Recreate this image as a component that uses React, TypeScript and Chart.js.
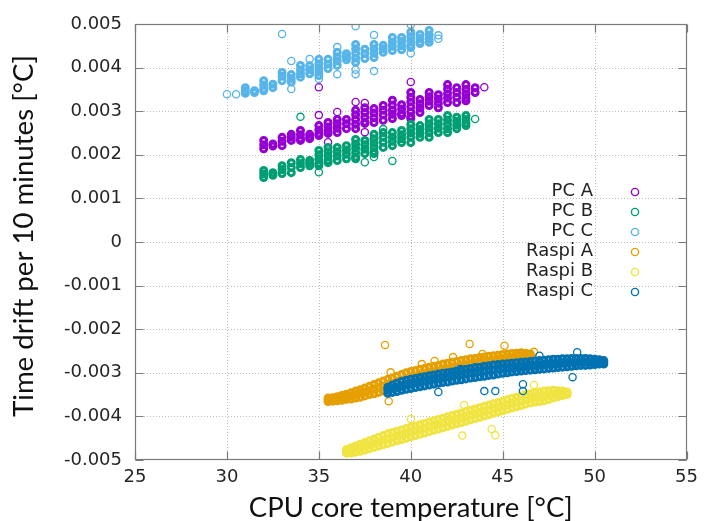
import React, { useEffect, useRef } from "react";
import { Chart, registerables } from "chart.js";

Chart.register(...registerables);

// ---------------- data ----------------
const SERIES_NAMES = ["PC A", "PC B", "PC C", "Raspi A", "Raspi B", "Raspi C"];
const SERIES_COLORS = ["#9400D3", "#009E73", "#56B4E9", "#E69F00", "#F0E442", "#0072B2"];

const X_TICKS = [25, 30, 35, 40, 45, 50, 55];
const X_TICK_LABELS = ["25", "30", "35", "40", "45", "50", "55"];
const Y_TICKS = [-0.005, -0.004, -0.003, -0.002, -0.001, 0, 0.001, 0.002, 0.003, 0.004, 0.005];
const Y_TICK_LABELS = ["-0.005", "-0.004", "-0.003", "-0.002", "-0.001", "0", "0.001", "0.002", "0.003", "0.004", "0.005"];

const X_TITLE = "CPU core temperature [°C]";
const Y_TITLE = "Time drift per 10 minutes [°C]";

// PC series: temperature columns and the drift values read in each column (dense core)
const PC_A_T = [32, 32.5, 33, 33.5, 34, 34.5, 35, 35.5, 36, 36.5, 37, 37.5, 38, 38.5, 39, 39.5, 40, 40.5, 41, 41.5, 42, 42.5, 43, 43.5];
const PC_A_V = [
  [0.00233, 0.00223, 0.00214],
  [0.00225, 0.0022],
  [0.0024, 0.00231, 0.00221],
  [0.00247, 0.0024, 0.00233],
  [0.00256, 0.00246, 0.00237, 0.00233],
  [0.00247, 0.0024, 0.00237],
  [0.00267, 0.00257, 0.00248, 0.00244],
  [0.00274, 0.00264, 0.00255, 0.00249],
  [0.00281, 0.00271, 0.00261, 0.00251],
  [0.00281, 0.00271, 0.0026],
  [0.00302, 0.00292, 0.00281, 0.0027, 0.0026],
  [0.00308, 0.00297, 0.00286, 0.00275, 0.00272],
  [0.00306, 0.00296, 0.00285, 0.00274],
  [0.00313, 0.00302, 0.00291, 0.00279],
  [0.00325, 0.00314, 0.00303, 0.00293, 0.00283],
  [0.00315, 0.00305, 0.00295, 0.0029],
  [0.00343, 0.00332, 0.00321, 0.0031, 0.00299, 0.00288, 0.00283],
  [0.00327, 0.00317, 0.00307, 0.00297],
  [0.00343, 0.00333, 0.00323, 0.00313],
  [0.00338, 0.00328, 0.00318, 0.00308],
  [0.00361, 0.00351, 0.0034, 0.0033, 0.0032],
  [0.00354, 0.00343, 0.00332, 0.0032],
  [0.00361, 0.0035, 0.0034, 0.0033, 0.00324],
  [0.00354, 0.00343],
];
const PC_A_OUT = [
  [35, 0.00355], [35, 0.00291], [35.5, 0.00229], [36, 0.00298], [37, 0.00321], [37.5, 0.00319],
  [37.5, 0.00252], [40, 0.00367], [44, 0.00355],
];

const PC_B_T = [32, 32.5, 33, 33.5, 34, 34.5, 35, 35.5, 36, 36.5, 37, 37.5, 38, 38.5, 39, 39.5, 40, 40.5, 41, 41.5, 42, 42.5, 43];
const PC_B_V = [
  [0.00164, 0.00156, 0.00148],
  [0.00159, 0.00153],
  [0.00175, 0.00166, 0.00157],
  [0.00182, 0.00171, 0.00159],
  [0.00189, 0.0018, 0.00171],
  [0.00187, 0.00181, 0.00175],
  [0.0021, 0.002, 0.0019, 0.0018, 0.00175],
  [0.00217, 0.00207, 0.00197, 0.00187, 0.00182],
  [0.00217, 0.00207, 0.00197, 0.00187],
  [0.00221, 0.00211, 0.00201, 0.00191],
  [0.00235, 0.00225, 0.00215, 0.00205, 0.00195, 0.00191],
  [0.00233, 0.00223, 0.00213, 0.00203],
  [0.00247, 0.00237, 0.00227, 0.00217, 0.00207, 0.00203],
  [0.00251, 0.0024, 0.00229, 0.00217],
  [0.00251, 0.00241, 0.00231, 0.00221],
  [0.00256, 0.00246, 0.00237, 0.00228],
  [0.0027, 0.0026, 0.0025, 0.0024, 0.00228],
  [0.00267, 0.00258, 0.00249, 0.0024],
  [0.00281, 0.00271, 0.00261, 0.00251, 0.0024],
  [0.00281, 0.00271, 0.00261, 0.00251],
  [0.0029, 0.0028, 0.0027, 0.0026, 0.00251],
  [0.00286, 0.00277, 0.00268, 0.0026],
  [0.0029, 0.00281, 0.00273, 0.00267],
];
const PC_B_OUT = [
  [34, 0.00287], [35, 0.0016], [37.5, 0.00183], [38, 0.00195], [38.5, 0.00259], [39, 0.00186], [43.5, 0.00282],
];

const PC_C_T = [31, 31.5, 32, 32.5, 33, 33.5, 34, 34.5, 35, 35.5, 36, 36.5, 37, 37.5, 38, 38.5, 39, 39.5, 40, 40.5, 41];
const PC_C_V = [
  [0.00354, 0.00347, 0.00341],
  [0.00347, 0.00343],
  [0.0037, 0.0036, 0.00351, 0.00347],
  [0.00362, 0.00354],
  [0.00389, 0.0038, 0.0037],
  [0.00384, 0.00375, 0.00367],
  [0.00405, 0.00395, 0.00386, 0.00378],
  [0.00404, 0.00395, 0.00386],
  [0.00419, 0.00409, 0.00399, 0.0039, 0.00382],
  [0.00419, 0.00408, 0.00398],
  [0.00435, 0.00425, 0.00415, 0.00405],
  [0.00432, 0.00425, 0.00418],
  [0.00453, 0.00443, 0.00433, 0.00422, 0.00412],
  [0.00442, 0.00432, 0.00421],
  [0.00453, 0.00443, 0.00433, 0.00423],
  [0.00451, 0.00443, 0.00435],
  [0.00469, 0.00459, 0.00449, 0.00439],
  [0.00469, 0.0046, 0.0045, 0.00441],
  [0.00481, 0.00471, 0.00461, 0.00451, 0.00446],
  [0.00476, 0.00467, 0.00458, 0.00455],
  [0.00485, 0.00475, 0.00465, 0.00458],
];
const PC_C_OUT = [
  [30, 0.00339], [30.5, 0.00339], [33, 0.00477], [33.5, 0.00415], [33.5, 0.00351], [34.5, 0.0042], [35, 0.00374],
  [36, 0.00447], [36, 0.00385], [37, 0.00495], [37, 0.00385], [37, 0.00395], [38, 0.00475], [38, 0.00392],
  [40, 0.00498], [40, 0.00433], [41.5, 0.00474], [41.5, 0.00466],
];

// Raspi series: [temperature, upper, middle, lower] read along each band
const RASPI_A_BAND = [
  [35.5, -0.00358, -0.00362, -0.00366], [35.75, -0.00357, -0.00361, -0.00365], [36, -0.00355, -0.0036, -0.00364],
  [36.25, -0.00352, -0.00358, -0.00363], [36.5, -0.00349, -0.00355, -0.00361], [36.75, -0.00346, -0.00353, -0.0036],
  [37, -0.00342, -0.0035, -0.00358], [37.25, -0.00339, -0.00347, -0.00356], [37.5, -0.00335, -0.00344, -0.00353],
  [37.75, -0.00331, -0.00341, -0.0035], [38, -0.00327, -0.00337, -0.00348], [38.25, -0.00323, -0.00334, -0.00345],
  [38.5, -0.00319, -0.0033, -0.00342], [38.75, -0.00315, -0.00327, -0.00339], [39, -0.00312, -0.00324, -0.00336],
  [39.25, -0.00308, -0.0032, -0.00333], [39.5, -0.00304, -0.00317, -0.0033], [39.75, -0.003, -0.00313, -0.00327],
  [40, -0.00297, -0.0031, -0.00325], [40.25, -0.00295, -0.00308, -0.00322], [40.5, -0.00292, -0.00305, -0.00319],
  [40.75, -0.0029, -0.00302, -0.00317], [41, -0.00287, -0.003, -0.00314], [41.25, -0.00285, -0.00298, -0.00312],
  [41.5, -0.00283, -0.00296, -0.00309], [41.75, -0.0028, -0.00293, -0.00306], [42, -0.00278, -0.00291, -0.00304],
  [42.25, -0.00276, -0.00289, -0.00302], [42.5, -0.00274, -0.00287, -0.00299], [42.75, -0.00272, -0.00284, -0.00297],
  [43, -0.0027, -0.00282, -0.00294], [43.25, -0.00268, -0.0028, -0.00292], [43.5, -0.00267, -0.00278, -0.0029],
  [43.75, -0.00265, -0.00276, -0.00287], [44, -0.00264, -0.00275, -0.00285], [44.25, -0.00262, -0.00273, -0.00283],
  [44.5, -0.00261, -0.00271, -0.00281], [44.75, -0.0026, -0.0027, -0.00279], [45, -0.00258, -0.00268, -0.00277],
  [45.25, -0.00257, -0.00266, -0.00275], [45.5, -0.00256, -0.00265, -0.00273], [45.75, -0.00255, -0.00263, -0.00271],
  [46, -0.00254, -0.00261, -0.00269], [46.25, -0.00255, -0.00261, -0.00267], [46.5, -0.00257, -0.00261, -0.00265],
];
const RASPI_A_OUT = [
  [38.6, -0.00236], [43.2, -0.00234], [45.1, -0.00238], [41.3, -0.00273], [38.9, -0.00299], [42.3, -0.00264],
  [43.9, -0.00257], [38.8, -0.00365], [46.7, -0.00252], [46.2, -0.00268], [40.6, -0.0028],
];

const RASPI_B_BAND = [
  [36.5, -0.00476, -0.0048, -0.00484], [36.75, -0.00472, -0.00478, -0.00484], [37, -0.00468, -0.00475, -0.00482],
  [37.25, -0.00464, -0.00472, -0.0048], [37.5, -0.0046, -0.00468, -0.00477], [37.75, -0.00456, -0.00465, -0.00474],
  [38, -0.00452, -0.00461, -0.00471], [38.25, -0.00448, -0.00458, -0.00468], [38.5, -0.00444, -0.00454, -0.00465],
  [38.75, -0.0044, -0.00451, -0.00462], [39, -0.00437, -0.00448, -0.00459], [39.25, -0.00434, -0.00445, -0.00456],
  [39.5, -0.00431, -0.00442, -0.00453], [39.75, -0.00428, -0.00439, -0.0045], [40, -0.00425, -0.00436, -0.00447],
  [40.25, -0.00422, -0.00433, -0.00444], [40.5, -0.00419, -0.0043, -0.00441], [40.75, -0.00416, -0.00427, -0.00438],
  [41, -0.00413, -0.00424, -0.00435], [41.25, -0.0041, -0.00421, -0.00432], [41.5, -0.00407, -0.00418, -0.00429],
  [41.75, -0.00404, -0.00415, -0.00426], [42, -0.00401, -0.00412, -0.00423], [42.25, -0.00398, -0.00409, -0.0042],
  [42.5, -0.00395, -0.00406, -0.00417], [42.75, -0.00392, -0.00403, -0.00414], [43, -0.00389, -0.004, -0.00411],
  [43.25, -0.00386, -0.00397, -0.00408], [43.5, -0.00383, -0.00394, -0.00405], [43.75, -0.0038, -0.00391, -0.00402],
  [44, -0.00377, -0.00388, -0.00399], [44.25, -0.00374, -0.00385, -0.00396], [44.5, -0.00371, -0.00382, -0.00393],
  [44.75, -0.00368, -0.00379, -0.0039], [45, -0.00365, -0.00376, -0.00387], [45.25, -0.00362, -0.00373, -0.00384],
  [45.5, -0.00359, -0.0037, -0.00381], [45.75, -0.00356, -0.00367, -0.00378], [46, -0.00353, -0.00364, -0.00375],
  [46.25, -0.0035, -0.00361, -0.00372], [46.5, -0.00348, -0.00358, -0.00369], [46.75, -0.00346, -0.00356, -0.00367],
  [47, -0.00344, -0.00355, -0.00366], [47.25, -0.00342, -0.00353, -0.00364], [47.5, -0.00341, -0.00351, -0.00361],
  [47.75, -0.0034, -0.00349, -0.00358], [48, -0.00341, -0.00348, -0.00355], [48.25, -0.00342, -0.00347, -0.00352],
  [48.5, -0.00344, -0.00347, -0.0035],
];
const RASPI_B_OUT = [
  [40, -0.00406], [42.9, -0.00374], [42.8, -0.00444], [44.4, -0.00429], [44.6, -0.00443], [46.7, -0.00328],
];

const RASPI_C_BAND = [
  [38.75, -0.00333, -0.0034, -0.00347], [39, -0.00328, -0.00336, -0.00345], [39.25, -0.00324, -0.00333, -0.00343],
  [39.5, -0.0032, -0.0033, -0.0034], [39.75, -0.00317, -0.00327, -0.00338], [40, -0.00315, -0.00325, -0.00336],
  [40.25, -0.00313, -0.00323, -0.00334], [40.5, -0.00311, -0.00321, -0.00332], [40.75, -0.00309, -0.00319, -0.0033],
  [41, -0.00307, -0.00317, -0.00328], [41.25, -0.00305, -0.00315, -0.00326], [41.5, -0.00303, -0.00313, -0.00324],
  [41.75, -0.00301, -0.00311, -0.00322], [42, -0.003, -0.00309, -0.00321], [42.25, -0.00298, -0.00307, -0.00319],
  [42.5, -0.00296, -0.00305, -0.00317], [42.75, -0.00294, -0.00304, -0.00316], [43, -0.00292, -0.00302, -0.00314],
  [43.25, -0.0029, -0.003, -0.00312], [43.5, -0.00288, -0.00299, -0.00311], [43.75, -0.00287, -0.00297, -0.00309],
  [44, -0.00285, -0.00296, -0.00308], [44.25, -0.00284, -0.00294, -0.00306], [44.5, -0.00282, -0.00293, -0.00305],
  [44.75, -0.00281, -0.00291, -0.00303], [45, -0.0028, -0.0029, -0.00301], [45.25, -0.00279, -0.00289, -0.003],
  [45.5, -0.00278, -0.00288, -0.00298], [45.75, -0.00277, -0.00287, -0.00297], [46, -0.00276, -0.00286, -0.00296],
  [46.25, -0.00275, -0.00285, -0.00295], [46.5, -0.00274, -0.00284, -0.00294], [46.75, -0.00273, -0.00283, -0.00293],
  [47, -0.00272, -0.00282, -0.00292], [47.25, -0.00271, -0.00281, -0.00291], [47.5, -0.0027, -0.0028, -0.0029],
  [47.75, -0.00269, -0.00279, -0.00289], [48, -0.00269, -0.00278, -0.00288], [48.25, -0.00268, -0.00277, -0.00287],
  [48.5, -0.00268, -0.00277, -0.00286], [48.75, -0.00267, -0.00276, -0.00285], [49, -0.00267, -0.00276, -0.00284],
  [49.25, -0.00267, -0.00275, -0.00283], [49.5, -0.00267, -0.00275, -0.00283], [49.75, -0.00268, -0.00275, -0.00282],
  [50, -0.00269, -0.00275, -0.00281], [50.25, -0.0027, -0.00275, -0.0028], [50.5, -0.00272, -0.00276, -0.0028],
];
const RASPI_C_OUT = [
  [49.05, -0.00253], [48.8, -0.0031], [44, -0.00342], [44.6, -0.00342], [46.1, -0.00342], [46.1, -0.00326],
  [42.7, -0.00291], [40.2, -0.00321], [41.5, -0.00344], [47, -0.00261],
];

// ---------------- helpers ----------------
type P = { x: number; y: number; o?: boolean };
function columnPoints(temps: number[], vals: number[][], out: number[][]) {
  const pts: P[] = [];
  temps.forEach((t, i) => vals[i].forEach((v) => pts.push({ x: t, y: v })));
  out.forEach((o) => pts.push({ x: o[0], y: o[1], o: true }));
  return pts;
}
function bandPoints(band: number[][], out: number[][]) {
  const pts: P[] = [];
  band.forEach((r) => {
    pts.push({ x: r[0], y: r[1] });
    pts.push({ x: r[0], y: r[2] });
    pts.push({ x: r[0], y: r[3] });
  });
  out.forEach((o) => pts.push({ x: o[0], y: o[1], o: true }));
  return pts;
}

const PLOT_FONT = '"DejaVu Sans", sans-serif';
const TITLE_FONT = 'Lato, "Noto Sans", sans-serif';

const framePlugin = {
  id: "gnuframe",
  beforeDatasetsDraw(chart: any) {
    const { ctx, chartArea: a, scales } = chart;
    ctx.save();
    ctx.strokeStyle = "#bdbdbd";
    ctx.lineWidth = 1;
    ctx.setLineDash([1, 2]);
    X_TICKS.forEach((t) => {
      if (t <= X_TICKS[0] || t >= X_TICKS[X_TICKS.length - 1]) return;
      const px = Math.round(scales.x.getPixelForValue(t)) + 0.5;
      ctx.beginPath();
      ctx.moveTo(px, a.top);
      ctx.lineTo(px, a.bottom);
      ctx.stroke();
    });
    Y_TICKS.forEach((t) => {
      if (t <= Y_TICKS[0] || t >= Y_TICKS[Y_TICKS.length - 1]) return;
      const py = Math.round(scales.y.getPixelForValue(t)) + 0.5;
      ctx.beginPath();
      ctx.moveTo(a.left, py);
      ctx.lineTo(a.right, py);
      ctx.stroke();
    });
    ctx.restore();
  },
  afterDatasetsDraw(chart: any) {
    const { ctx, chartArea: a, scales } = chart;
    ctx.save();
    ctx.strokeStyle = "#7a7a7a";
    ctx.lineWidth = 1.2;
    ctx.setLineDash([]);
    const L = Math.round(a.left) + 0.5, R = Math.round(a.right) - 0.5;
    const T = Math.round(a.top) + 0.5, B = Math.round(a.bottom) - 0.5;
    ctx.strokeRect(L, T, R - L, B - T);
    const tl = 8;
    ctx.beginPath();
    X_TICKS.forEach((t) => {
      const px = Math.round(scales.x.getPixelForValue(t)) + 0.5;
      ctx.moveTo(px, B);
      ctx.lineTo(px, B - tl);
      ctx.moveTo(px, T);
      ctx.lineTo(px, T + tl);
    });
    Y_TICKS.forEach((t) => {
      const py = Math.round(scales.y.getPixelForValue(t)) + 0.5;
      ctx.moveTo(L, py);
      ctx.lineTo(L + tl, py);
      ctx.moveTo(R, py);
      ctx.lineTo(R - tl, py);
    });
    ctx.stroke();
    ctx.restore();
  },
  afterDraw(chart: any) {
    const { ctx, chartArea: a } = chart;
    ctx.save();
    // legend
    ctx.font = `18px ${PLOT_FONT}`;
    ctx.textAlign = "right";
    ctx.textBaseline = "middle";
    SERIES_NAMES.forEach((name, i) => {
      const y = 192 + i * 20;
      ctx.fillStyle = "#222";
      ctx.fillText(name, 593, y - 1);
      ctx.strokeStyle = SERIES_COLORS[i];
      ctx.lineWidth = 1.4;
      ctx.beginPath();
      ctx.arc(635, y, 3.6, 0, Math.PI * 2);
      ctx.stroke();
    });
    // axis titles
    const fit = (text: string, width: number) => {
      ctx.font = `100px ${TITLE_FONT}`;
      return (100 * width) / ctx.measureText(text).width;
    };
    const xs = fit(X_TITLE, 324);
    ctx.font = `${xs}px ${TITLE_FONT}`;
    ctx.fillStyle = "#111";
    ctx.textAlign = "center";
    ctx.textBaseline = "alphabetic";
    ctx.fillText(X_TITLE, (a.left + a.right) / 2, 517);
    const ys = fit(Y_TITLE, 362);
    ctx.font = `${ys}px ${TITLE_FONT}`;
    ctx.translate(33, 236);
    ctx.rotate(-Math.PI / 2);
    ctx.fillText(Y_TITLE, 0, 0);
    ctx.restore();
  },
};

export default function App() {
  const ref = useRef<HTMLCanvasElement | null>(null);
  useEffect(() => {
    if (!ref.current) return;
    const seriesData = [
      columnPoints(PC_A_T, PC_A_V, PC_A_OUT),
      columnPoints(PC_B_T, PC_B_V, PC_B_OUT),
      columnPoints(PC_C_T, PC_C_V, PC_C_OUT),
      bandPoints(RASPI_A_BAND, RASPI_A_OUT),
      bandPoints(RASPI_B_BAND, RASPI_B_OUT),
      bandPoints(RASPI_C_BAND, RASPI_C_OUT),
    ];
    const chart = new Chart(ref.current, {
      type: "scatter",
      data: {
        datasets: seriesData.map((d, i) => ({
          label: SERIES_NAMES[i],
          data: d,
          borderColor: SERIES_COLORS[i],
          backgroundColor: "rgba(0,0,0,0)",
          pointBackgroundColor: "rgba(0,0,0,0)",
          pointBorderColor: SERIES_COLORS[i],
          pointRadius: (c: any) => (c.raw && c.raw.o ? 3.6 : 3.0),
          pointBorderWidth: (c: any) => (c.raw && c.raw.o ? 1.3 : 3.0),
          pointStyle: "circle",
          order: SERIES_NAMES.length - 1 - i,
        })),
      },
      options: {
        responsive: false,
        animation: false,
        events: [],
        layout: { padding: { left: 0, top: 24, right: 15, bottom: 0 } },
        plugins: { legend: { display: false }, tooltip: { enabled: false }, title: { display: false } },
        scales: {
          x: {
            type: "linear",
            min: X_TICKS[0],
            max: X_TICKS[X_TICKS.length - 1],
            grid: { display: false, drawTicks: false },
            border: { display: false },
            afterBuildTicks: (s: any) => {
              s.ticks = X_TICKS.map((v) => ({ value: v }));
            },
            afterFit: (s: any) => {
              s.height = 61;
            },
            ticks: {
              autoSkip: false,
              maxRotation: 0,
              padding: 7,
              color: "#262626",
              font: { family: PLOT_FONT, size: 18 },
              callback: (v: any) => {
                const i = X_TICKS.indexOf(Number(v));
                return i >= 0 ? X_TICK_LABELS[i] : "";
              },
            },
          },
          y: {
            type: "linear",
            min: Y_TICKS[0],
            max: Y_TICKS[Y_TICKS.length - 1],
            grid: { display: false, drawTicks: false },
            border: { display: false },
            afterBuildTicks: (s: any) => {
              s.ticks = Y_TICKS.map((v) => ({ value: v }));
            },
            afterFit: (s: any) => {
              s.width = 135;
            },
            ticks: {
              autoSkip: false,
              padding: 13,
              color: "#262626",
              font: { family: PLOT_FONT, size: 18 },
              callback: (v: any) => {
                const i = Y_TICKS.findIndex((t) => Math.abs(t - Number(v)) < 1e-9);
                return i >= 0 ? Y_TICK_LABELS[i] : "";
              },
            },
          },
        },
      },
      plugins: [framePlugin],
    } as any);
    return () => chart.destroy();
  }, []);
  return (
    <div style={{ position: "fixed", left: 0, top: 0, width: 705, height: 521, background: "#fff" }}>
      <canvas ref={ref} width={705} height={521} style={{ display: "block", width: 705, height: 521 }} />
    </div>
  );
}
